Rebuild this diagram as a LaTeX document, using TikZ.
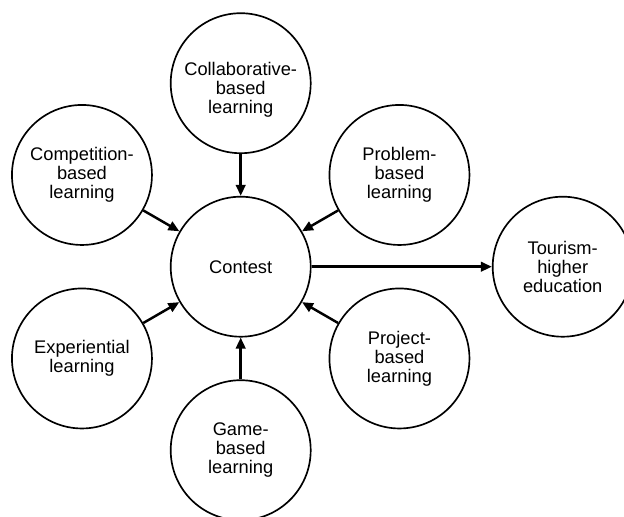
\documentclass[tikz,border=0pt]{standalone}
\usepackage{fontspec}
\setmainfont{Liberation Sans}
\usetikzlibrary{positioning, arrows.meta}
\tikzset{
>={Triangle[length=2.2mm,width=1.9mm]}, % filled triangle heads
node distance=3.67cm, % centre to centre distance round the contest
every node/.style={font=\fontsize{10.4}{10.8}\selectfont}, % text size in the circles
topic/.style={circle, draw, line width=0.95pt, minimum size=2.8cm, inner sep=0pt, align=center}, % one circle per approach
}

\begin{document}
\begin{tikzpicture}[->,on grid,line width=1.4pt]
\useasboundingbox (-4.814,-4.986) rectangle (7.666,5.334);
\node[topic] (contest) {Contest};
\node[topic] (collab) [above=of contest] {\rule{0pt}{0.51cm}Collaborative-\\based\\learning};
\node[topic] (compet) [above left=1.835cm and 3.175cm of contest] {Competition-\\based\\learning};
\node[topic] (problem) [above right=1.835cm and 3.175cm of contest] {Problem-\\based\\learning};
\node[topic] (exper) [below left=1.835cm and 3.175cm of contest] {Experiential\\learning};
\node[topic] (project) [below right=1.835cm and 3.175cm of contest] {Project-\\based\\learning};
\node[topic] (game) [below=of contest] {Game-\\based\\learning};
\node[topic] (tourism) [right=6.44cm of contest] {Tourism-\\higher\\education};
\path (collab) edge (contest)
(compet) edge (contest)
(problem) edge (contest)
(exper) edge (contest)
(project) edge (contest)
(game) edge (contest)
(contest) edge (tourism);
\end{tikzpicture}
\end{document}
